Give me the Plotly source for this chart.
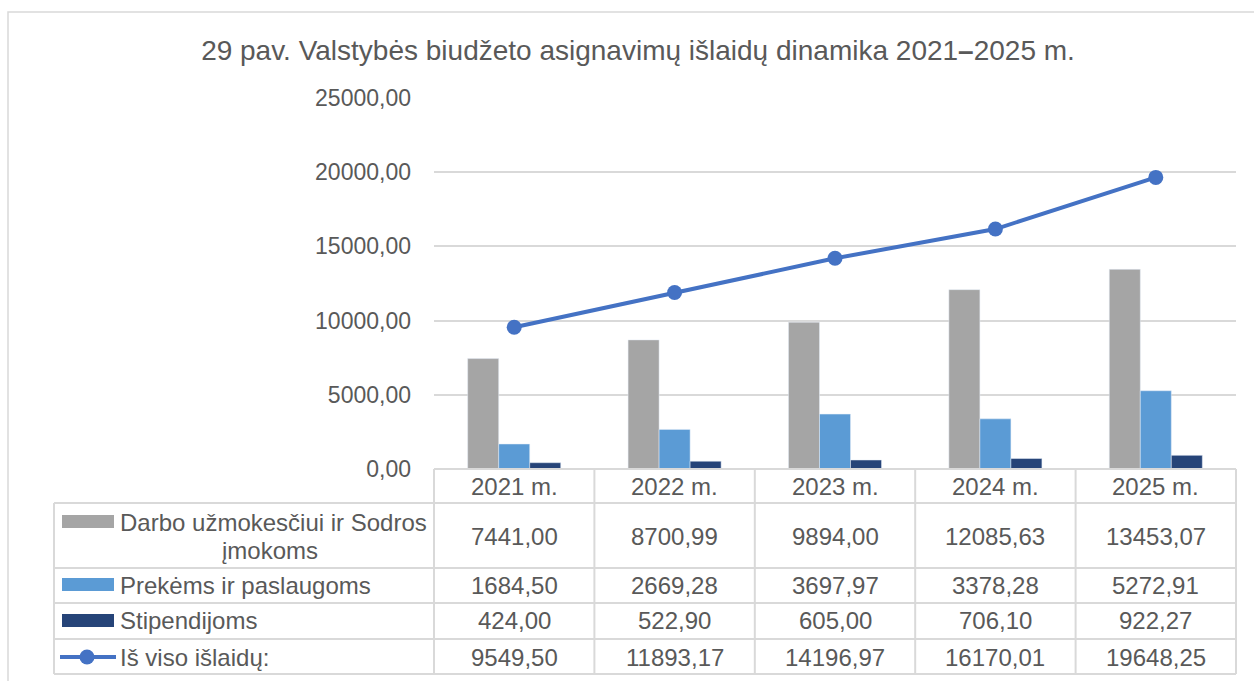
import plotly.graph_objects as go

# Chart data
years = ["2021 m.", "2022 m.", "2023 m.", "2024 m.", "2025 m."]
darbo = [7441.00, 8700.99, 9894.00, 12085.63, 13453.07]
prekems = [1684.50, 2669.28, 3697.97, 3378.28, 5272.91]
stipendijoms = [424.00, 522.90, 605.00, 706.10, 922.27]
is_viso = [9549.50, 11893.17, 14196.97, 16170.01, 19648.25]

series_names = ["Darbo užmokesčiui ir Sodros įmokoms", "Prekėms ir paslaugoms",
                "Stipendijoms", "Iš viso išlaidų:"]
y_ticks = [0, 5000, 10000, 15000, 20000, 25000]

TITLE = "29 pav. Valstybės biudžeto asignavimų išlaidų dinamika 2021<b>–</b>2025 m."

C_GRAY = "#A5A5A5"
C_BLUE = "#5B9BD5"
C_NAVY = "#264478"
C_LINE = "#4472C4"
C_TEXT = "#595959"
C_GRID = "#D9D9D9"
FONT = "Arial, Liberation Sans, sans-serif"

W, H = 1254, 681
PL, PR, PT, PB = 434, 1236, 98, 469  # plot area edges in pixels


def fmt(v):
    return f"{v:.2f}".replace(".", ",")


def xp(px):
    return (px - PL) / (PR - PL)


def yp(py):
    return (PB - py) / (PB - PT)


fig = go.Figure()
fig.add_bar(x=years, y=darbo, name=series_names[0], marker_color=C_GRAY)
fig.add_bar(x=years, y=prekems, name=series_names[1], marker_color=C_BLUE)
fig.add_bar(x=years, y=stipendijoms, name=series_names[2], marker_color=C_NAVY)
fig.add_scatter(x=years, y=is_viso, name=series_names[3], mode="lines+markers",
                line=dict(color=C_LINE, width=4),
                marker=dict(color=C_LINE, size=15))

shapes = []
line_style = dict(color=C_GRID, width=2)

# outer chart border
shapes.append(dict(type="rect", xref="paper", yref="paper",
                   x0=xp(8), x1=xp(1262), y0=yp(690), y1=yp(12),
                   line=dict(color=C_GRID, width=1.5), fillcolor="rgba(0,0,0,0)"))

# data table grid
col_edges = [PL + i * (PR - PL) / len(years) for i in range(len(years) + 1)]
row_edges = [469, 503, 568, 603, 639, 674]
TL = 54
# header row (year columns only)
shapes.append(dict(type="line", xref="paper", yref="paper",
                   x0=xp(PL), x1=xp(PR), y0=yp(row_edges[0]), y1=yp(row_edges[0]), line=line_style))
for ry in row_edges[1:]:
    shapes.append(dict(type="line", xref="paper", yref="paper",
                       x0=xp(TL), x1=xp(PR), y0=yp(ry), y1=yp(ry), line=line_style))
for cx in col_edges:
    shapes.append(dict(type="line", xref="paper", yref="paper",
                       x0=xp(cx), x1=xp(cx), y0=yp(row_edges[0]), y1=yp(row_edges[-1]), line=line_style))
shapes.append(dict(type="line", xref="paper", yref="paper",
                   x0=xp(TL), x1=xp(TL), y0=yp(row_edges[1]), y1=yp(row_edges[-1]), line=line_style))

# legend keys inside the table
for color, (ky0, ky1) in zip([C_GRAY, C_BLUE, C_NAVY], [(515, 528), (578, 591), (614, 627)]):
    shapes.append(dict(type="rect", xref="paper", yref="paper",
                       x0=xp(62), x1=xp(114), y0=yp(ky1), y1=yp(ky0),
                       fillcolor=color, line=dict(width=0)))
shapes.append(dict(type="line", xref="paper", yref="paper",
                   x0=xp(60), x1=xp(116), y0=yp(657), y1=yp(657),
                   line=dict(color=C_LINE, width=4)))
shapes.append(dict(type="circle", xref="paper", yref="paper",
                   x0=xp(79.5), x1=xp(94.5), y0=yp(664.5), y1=yp(649.5),
                   fillcolor=C_LINE, line=dict(width=0)))

annotations = []
tfont = dict(family=FONT, size=24, color=C_TEXT)

# header row: years
for yr in years:
    annotations.append(dict(x=yr, xref="x", y=yp(486), yref="paper", text=yr,
                            showarrow=False, font=tfont, xanchor="center", yanchor="middle"))

# row labels
annotations.append(dict(x=xp(118), xref="paper", y=yp(522), yref="paper",
                        text="Darbo užmokesčiui ir Sodros", showarrow=False, font=tfont,
                        xanchor="left", yanchor="middle"))
annotations.append(dict(x=xp(270), xref="paper", y=yp(550), yref="paper",
                        text="įmokoms", showarrow=False, font=tfont,
                        xanchor="center", yanchor="middle"))
for name, ry in zip(series_names[1:], [585, 620, 657]):
    annotations.append(dict(x=xp(118), xref="paper", y=yp(ry), yref="paper",
                            text=name, showarrow=False, font=tfont,
                            xanchor="left", yanchor="middle"))

# row values
for values, ry in zip([darbo, prekems, stipendijoms, is_viso], [536, 585, 620, 657]):
    for yr, v in zip(years, values):
        annotations.append(dict(x=yr, xref="x", y=yp(ry), yref="paper", text=fmt(v),
                                showarrow=False, font=tfont, xanchor="center", yanchor="middle"))

fig.update_layout(
    width=W, height=H, autosize=False,
    margin=dict(l=PL, r=W - PR, t=PT, b=H - PB, pad=0),
    paper_bgcolor="white", plot_bgcolor="white",
    showlegend=False,
    barmode="group", bargap=0.42, bargroupgap=0,
    title=dict(text=TITLE, x=638 / W, xref="container", xanchor="center",
               y=1 - 50 / H, yref="container", yanchor="middle",
               font=dict(family=FONT, size=28, color=C_TEXT)),
    font=dict(family=FONT, color=C_TEXT),
    shapes=shapes,
    annotations=annotations,
)
fig.update_xaxes(showticklabels=False, showgrid=False, zeroline=False, showline=False,
                 ticks="", range=[-0.5, len(years) - 0.5])
fig.update_yaxes(range=[0, 25000], tickvals=y_ticks, ticktext=[fmt(v) for v in y_ticks],
                 showgrid=True, gridcolor=C_GRID, gridwidth=2, zeroline=False,
                 showline=False, ticks="", ticklabelstandoff=22,
                 tickfont=dict(family=FONT, size=23, color=C_TEXT))

fig.write_html("out.html")
